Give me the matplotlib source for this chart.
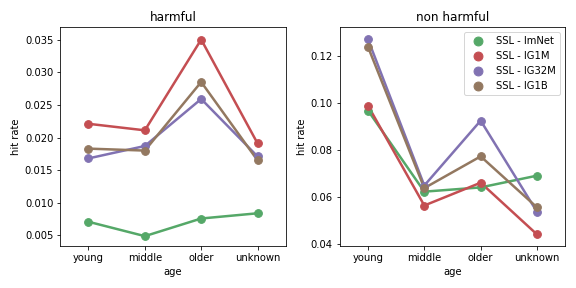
import numpy as np
import matplotlib
matplotlib.use('Agg')
import matplotlib.pyplot as plt

# age groups on the x axis
ages = ['young', 'middle', 'older', 'unknown']
models = ['SSL - ImNet', 'SSL - IG1M', 'SSL - IG32M', 'SSL - IG1B']
colors = ['#55A868', '#C44E52', '#8172B2', '#937860']

# hit rates
harmful_imnet = [0.0071, 0.0049, 0.0076, 0.0084]
harmful_ig1m = [0.0221, 0.0211, 0.0350, 0.0191]
harmful_ig32m = [0.0168, 0.0187, 0.0259, 0.0171]
harmful_ig1b = [0.0183, 0.0180, 0.0285, 0.0165]

nonharm_imnet = [0.0967, 0.0622, 0.0640, 0.0690]
nonharm_ig1m = [0.0988, 0.0563, 0.0660, 0.0440]
nonharm_ig32m = [0.1270, 0.0648, 0.0924, 0.0536]
nonharm_ig1b = [0.1238, 0.0637, 0.0772, 0.0555]


def draw(ax, series, title, ylim, legend=False):
    x = np.arange(len(ages))
    for vals, col, name in zip(series, colors, models):
        ax.plot(x, vals, color=col, lw=2.5, zorder=2)
        ax.scatter(x, vals, color=col, s=60, zorder=3, label=name)
    ax.set_xticks(x)
    ax.set_xticklabels(ages)
    ax.set_xlim(-0.5, len(ages) - 0.5)
    ax.set_ylim(*ylim)
    ax.set_xlabel('age')
    ax.set_ylabel('hit rate')
    ax.set_title(title)
    if legend:
        ax.legend(loc='upper right', markerscale=1.15)


def main():
    fig, (ax1, ax2) = plt.subplots(1, 2, figsize=(8, 4), dpi=72)
    draw(ax1, [harmful_imnet, harmful_ig1m, harmful_ig32m, harmful_ig1b], 'harmful',
         (0.00336, 0.03695))
    draw(ax2, [nonharm_imnet, nonharm_ig1m, nonharm_ig32m, nonharm_ig1b], 'non harmful',
         (0.0390, 0.1323), legend=True)
    fig.tight_layout()
    fig.savefig('out.png', dpi=72)


if __name__ == '__main__':
    main()
